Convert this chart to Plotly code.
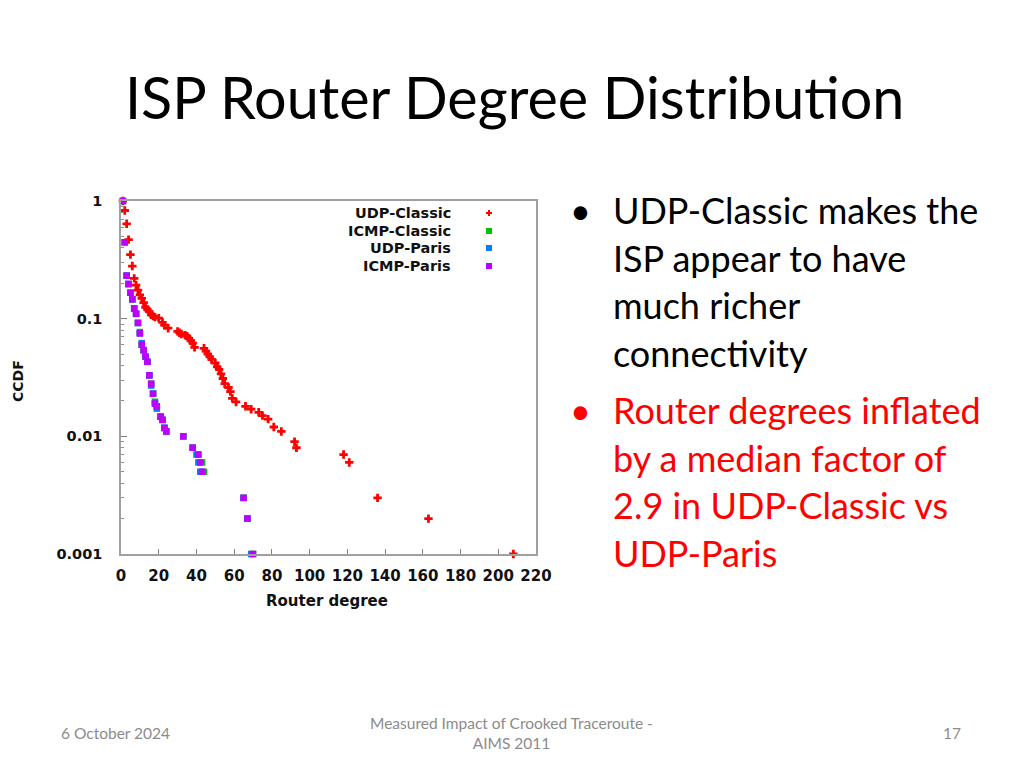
import plotly.graph_objects as go

# ---------------- data ----------------
udp_classic_deg = [1, 2, 3, 4, 5, 6, 7, 8, 9, 10, 11, 12, 13, 14, 15, 16, 17, 18, 20, 22,
                   23, 25, 30, 31, 32, 34, 35, 36, 37, 38, 39, 44, 45, 46, 47, 48, 50, 51, 52, 53,
                   54, 55, 57, 58, 59, 61, 66, 69, 73, 75, 78, 81, 85, 92, 93, 118, 121, 136, 163, 208]
udp_classic_ccdf = [1, 0.83, 0.64, 0.47, 0.35, 0.28, 0.22, 0.193, 0.175, 0.159,
                    0.149, 0.137, 0.125, 0.12, 0.115, 0.108, 0.105, 0.103, 0.101, 0.093,
                    0.088, 0.083, 0.078, 0.076, 0.074, 0.0725, 0.071, 0.068, 0.065, 0.062,
                    0.057, 0.056, 0.053, 0.05, 0.0475, 0.045, 0.042, 0.039, 0.037, 0.034,
                    0.031, 0.028, 0.026, 0.024, 0.021, 0.0196, 0.018, 0.017, 0.016, 0.015,
                    0.014, 0.012, 0.011, 0.009, 0.008, 0.007, 0.006, 0.003, 0.002, 0.001]

icmp_paris_deg = [1, 2, 3, 4, 5, 6, 7, 8, 9, 10, 11, 12, 13, 14, 15, 16, 17, 18, 19,
                  21, 22, 23, 24, 33, 38, 41, 42, 43, 65, 67, 70]
icmp_paris_ccdf = [1, 0.446, 0.232, 0.197, 0.166, 0.146, 0.122, 0.11, 0.092, 0.075,
                   0.06, 0.054, 0.0475, 0.043, 0.033, 0.028, 0.023, 0.019, 0.018, 0.0147,
                   0.0138, 0.0118, 0.011, 0.01, 0.008, 0.007, 0.006, 0.005, 0.003, 0.002, 0.001]

udp_paris_deg = [1, 2, 3, 4, 5, 6, 7, 8, 9, 10, 11, 12, 13, 14, 15, 16, 17, 18, 19,
                 21, 22, 23, 24, 33, 38, 40, 41, 42, 65, 67, 69]
udp_paris_ccdf = [1, 0.446, 0.232, 0.197, 0.166, 0.146, 0.122, 0.11, 0.092, 0.075,
                  0.062, 0.054, 0.0475, 0.043, 0.033, 0.027, 0.023, 0.019, 0.0172, 0.0147,
                  0.0138, 0.0118, 0.011, 0.01, 0.008, 0.007, 0.006, 0.005, 0.003, 0.002, 0.001]

icmp_classic_deg = [1, 2, 3, 4, 5, 6, 7, 8, 9, 10, 11, 12, 13, 14, 15, 16, 17, 18, 19,
                    21, 22, 23, 24, 33, 38, 41, 43, 44, 65, 67, 70]
icmp_classic_ccdf = [1, 0.446, 0.232, 0.197, 0.166, 0.146, 0.122, 0.11, 0.092, 0.077,
                     0.06, 0.054, 0.0475, 0.043, 0.033, 0.028, 0.023, 0.0197, 0.018, 0.0147,
                     0.0138, 0.0118, 0.011, 0.01, 0.008, 0.007, 0.006, 0.005, 0.003, 0.002, 0.001]

series_names = ["UDP-Classic", "ICMP-Classic", "UDP-Paris", "ICMP-Paris"]
series_colors = ["#ff0000", "#00c000", "#0080ff", "#c000ff"]

x_ticks = list(range(0, 221, 20))
y_ticks = [0.001, 0.01, 0.1, 1]
y_tick_text = ["0.001", "0.01", "0.1", "1"]

title_text = "ISP Router Degree Distribution"
bullet1_lines = ["UDP-Classic makes the", "ISP appear to have", "much richer", "connectivity"]
bullet2_lines = ["Router degrees inflated", "by a median factor of", "2.9 in UDP-Classic vs", "UDP-Paris"]
footer_date = "6 October 2024"
footer_mid = "Measured Impact of Crooked Traceroute -<br>AIMS 2011"
footer_page = "17"

# ---------------- layout geometry (screen pixels) ----------------
OX, OY = 8, 8            # default page body margin
FW, FH = 1024 - OX, 768 - OY
L, R, T, B = 121, 536, 201, 554
W, H = R - L, B - T


def px(x):
    return (x - L) / W


def py(y):
    return (B - y) / H


FONT = "DejaVu Sans"
TXT = "Lato"

fig = go.Figure()
data = [
    (udp_classic_deg, udp_classic_ccdf, "cross", 7),
    (icmp_classic_deg, icmp_classic_ccdf, "square", 6.5),
    (udp_paris_deg, udp_paris_ccdf, "square", 6.5),
    (icmp_paris_deg, icmp_paris_ccdf, "square", 6.5),
]
for (xs, ys, sym, sz), name, col in zip(data, series_names, series_colors):
    fig.add_trace(go.Scatter(x=xs, y=ys, mode="markers", name=name,
                             marker=dict(symbol=sym, size=sz, color=col, line=dict(width=0)),
                             cliponaxis=False, showlegend=False))

axis_col = "#a0a0a0"
fig.update_xaxes(range=[0, 220], tickvals=x_ticks, ticks="inside", ticklen=5, tickcolor="#808080",
                 showline=True, linecolor=axis_col, linewidth=1.5, mirror=True, showgrid=False,
                 zeroline=False, ticklabelstandoff=7,
                 tickfont=dict(family=FONT, size=15, color="#111111", weight="bold"))
fig.update_yaxes(type="log", range=[-3, 0], tickvals=y_ticks, ticktext=y_tick_text,
                 ticks="inside", ticklen=6, tickcolor="#808080",
                 minor=dict(ticks="inside", ticklen=3, tickcolor="#909090",
                            tickvals=[m * 10 ** e for e in (-3, -2, -1) for m in range(2, 10)]),
                 showline=True, linecolor=axis_col, linewidth=1.5, mirror=True, showgrid=False,
                 zeroline=False, ticklabelstandoff=14,
                 tickfont=dict(family=FONT, size=14.5, color="#111111", weight="bold"))

ann = []
shapes = []


def add_text(x, y, text, size, color, family, xanchor="left", bold=False, angle=0):
    ann.append(dict(xref="paper", yref="paper", x=px(x), y=py(y), text=text, showarrow=False,
                    textangle=angle,
                    font=dict(family=family, size=size, color=color,
                              weight="bold" if bold else "normal"),
                    xanchor=xanchor, yanchor="middle"))


# axis titles
add_text(327, 601, "Router degree", 15, "#111111", FONT, "center", True)
add_text(18, 381, "CCDF", 14, "#111111", FONT, "center", True, -90)
# key
key_y = [213, 231, 248, 266]
for i, (name, col, ky) in enumerate(zip(series_names, series_colors, key_y)):
    add_text(453, ky, name, 14.5, "#111111", FONT, "right", True)
    cx, cy = 489, ky
    if i == 0:
        shapes.append(dict(type="rect", xref="paper", yref="paper",
                           x0=px(cx - 3), x1=px(cx + 3), y0=py(cy + 1), y1=py(cy - 1),
                           fillcolor=col, line=dict(width=0)))
        shapes.append(dict(type="rect", xref="paper", yref="paper",
                           x0=px(cx - 1), x1=px(cx + 1), y0=py(cy + 3), y1=py(cy - 3),
                           fillcolor=col, line=dict(width=0)))
    else:
        shapes.append(dict(type="rect", xref="paper", yref="paper",
                           x0=px(cx - 3), x1=px(cx + 3), y0=py(cy + 3), y1=py(cy - 3),
                           fillcolor=col, line=dict(width=0)))

# slide title
add_text(123, 97, title_text, 57.5, "#000000", TXT)
# bullets
line_y1 = [210, 258, 305, 353]
line_y2 = [410, 458, 505, 553]
for lines, ys, col in ((bullet1_lines, line_y1, "#000000"), (bullet2_lines, line_y2, "#ff0000")):
    add_text(568, ys[0], "•", 36, col, TXT)
    for t, yy in zip(lines, ys):
        add_text(611, yy, t, 36, col, TXT)
# footer
add_text(59, 733, footer_date, 15.5, "#8b8b8b", TXT)
add_text(511, 733, footer_mid, 15.5, "#8b8b8b", TXT, "center")
add_text(963, 733, footer_page, 15.5, "#8b8b8b", TXT, "right")

fig.update_layout(width=FW, height=FH, autosize=False,
                  margin=dict(l=L - OX, r=1024 - R, t=T - OY, b=768 - B, pad=0),
                  paper_bgcolor="white", plot_bgcolor="white",
                  annotations=ann, shapes=shapes, showlegend=False)

fig.write_html("out.html", include_plotlyjs=True, config={"displayModeBar": False})
